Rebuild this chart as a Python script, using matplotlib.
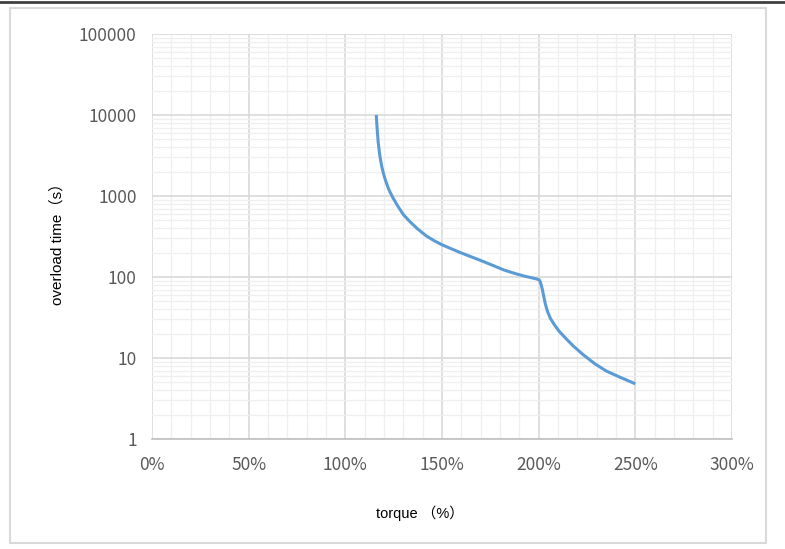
import matplotlib.pyplot as plt
from matplotlib.patches import Rectangle
from matplotlib.lines import Line2D
from matplotlib.ticker import FixedLocator, NullFormatter

plt.rcParams['font.family'] = ['Noto Sans CJK SC', 'DejaVu Sans']

# torque (%) and overload time (s)
torque = [116.0, 116.4, 117.0, 117.8, 118.7, 119.7, 121.0, 122.5, 124.5, 127.0, 130.0,
          133.5, 137.5, 142.0, 146.0, 150.0, 155.0, 160.0, 165.0, 170.0, 176.0, 182.0,
          188.0, 193.0, 197.0, 199.0, 200.3, 201.0, 201.8, 202.6, 203.5, 204.5, 206.0,
          208.0, 210.5, 214.0, 218.0, 223.0, 229.0, 235.0, 242.0, 250.0]
overload_time = [10000, 7000, 4600, 3200, 2400, 1900, 1500, 1200, 960, 760, 590,
                 480, 390, 320, 280, 250, 222, 198, 178, 160, 140, 122,
                 110, 102, 97, 94.5, 92, 85, 72, 58, 46, 38, 31,
                 26, 21.5, 17.5, 14.0, 11.0, 8.5, 6.9, 5.8, 4.8]

x_ticks = [0, 50, 100, 150, 200, 250, 300]
x_ticklabels = ['0%', '50%', '100%', '150%', '200%', '250%', '300%']
y_ticks = [1, 10, 100, 1000, 10000, 100000]
y_ticklabels = ['1', '10', '100', '1000', '10000', '100000']

W, H = 785, 549
fig = plt.figure(figsize=(W / 100, H / 100), dpi=100)

# outer chart frame and the dark line on top
fig.patches.append(Rectangle((10 / W, 1 - 543 / H), 756 / W, 535 / H,
                             transform=fig.transFigure, fill=False,
                             edgecolor='#d9d9d9', linewidth=1.5))
fig.lines.append(Line2D([0, 1], [1 - 1.5 / H, 1 - 1.5 / H], transform=fig.transFigure,
                        color='#404040', linewidth=2))

ax = fig.add_axes([152 / W, 1 - 439 / H, 580 / W, 405 / H])
ax.plot(torque, overload_time, color='#5b9bd5', linewidth=2.2, solid_joinstyle='round',
        solid_capstyle='butt', zorder=3)

ax.set_yscale('log')
ax.set_xlim(0, 300)
ax.set_ylim(1, 100000)

ax.set_xticks(x_ticks)
ax.set_xticklabels(x_ticklabels)
ax.set_yticks(y_ticks)
ax.set_yticklabels(y_ticklabels)
ax.xaxis.set_minor_locator(FixedLocator([v for v in range(10, 300, 10) if v % 50]))
ax.yaxis.set_minor_locator(FixedLocator([m * 10 ** e for e in range(5) for m in range(2, 10)]))
ax.yaxis.set_minor_formatter(NullFormatter())

ax.grid(which='major', color='#d9d9d9', linewidth=1.2)
ax.grid(which='minor', color='#efefef', linewidth=0.9)
ax.set_axisbelow(True)

ax.tick_params(which='both', length=0)
ax.tick_params(axis='x', pad=12, labelsize=12.5, labelcolor='#595959')
ax.tick_params(axis='y', pad=11, labelsize=12.5, labelcolor='#595959')
for lab in ax.get_xticklabels() + ax.get_yticklabels():
    lab.set_fontweight('light')

for side in ['top', 'right', 'left']:
    ax.spines[side].set_visible(False)
ax.spines['bottom'].set_color('#bfbfbf')
ax.spines['bottom'].set_linewidth(1.2)

label_font = ['Liberation Sans', 'Noto Sans CJK SC']
ax.set_xlabel('torque （%）', fontsize=10.5, color='#000000', family=label_font, va='center')
ax.set_ylabel('overload time（s）', fontsize=11, color='#000000', family=label_font, va='center')
ax.xaxis.set_label_coords(0.462, -0.183)
ax.yaxis.set_label_coords(-0.164, 0.49)

fig.savefig('out.png', dpi=100, facecolor='white')
